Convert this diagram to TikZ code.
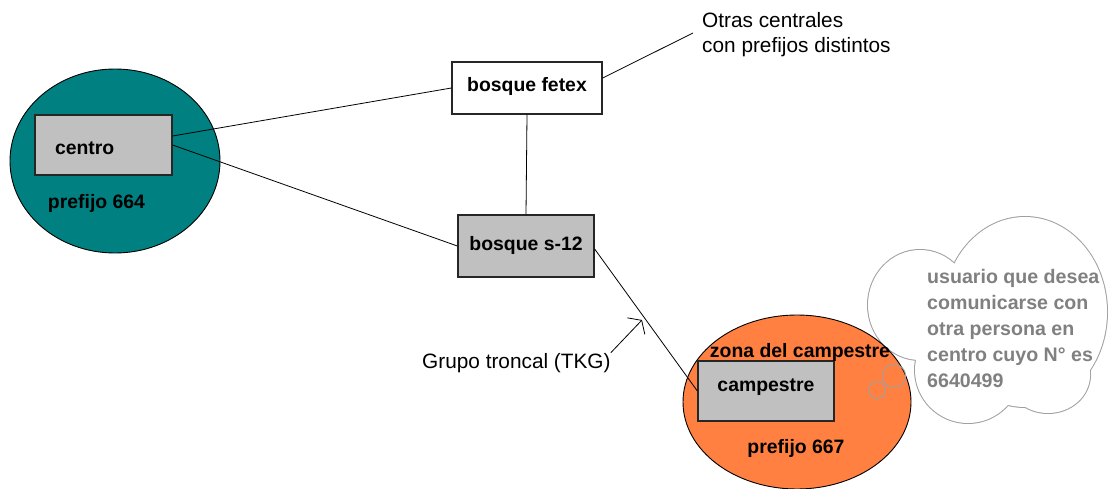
\documentclass[tikz,border=0pt]{standalone}
\usepackage{fontspec}
\setmainfont{Liberation Sans}
\usetikzlibrary{shapes.geometric,arrows.meta,calc}
\definecolor{zoneteal}{RGB}{0,128,128}
\definecolor{zoneorange}{RGB}{255,128,64}
\definecolor{boxgray}{RGB}{192,192,192}
\definecolor{notegray}{RGB}{128,128,128}
\definecolor{cloudline}{RGB}{160,160,160}
\begin{document}
\begin{tikzpicture}[x=1pt,y=-1pt,
  region/.style={ellipse, draw=black, line width=0.9pt, inner sep=0pt},
  exchange/.style={draw=black!85, line width=1.3pt, inner sep=0pt,
    font=\fontsize{19.4}{22}\selectfont\bfseries},
  tag/.style={inner sep=0pt, anchor=base, font=\fontsize{19.4}{22}\selectfont\bfseries},
  remark/.style={inner sep=0pt, font=\fontsize{20.8}{25}\selectfont},
  note/.style={inner sep=0pt, align=left, text=notegray,
    font=\fontsize{19.6}{26}\selectfont\bfseries},
  link/.style={draw=black, line width=0.8pt},
  bubble/.style={draw=cloudline, line width=0.9pt}
]
\fill[white] (0,0) rectangle (1108,489);
\useasboundingbox (0,0) rectangle (1108,489);

% thought cloud: outlined union of lobes
\foreach \cx/\cy/\rx/\ry in {920/305/52/55, 1025/312/82/95, 968/370/53/53, 1048/375/42/38}
  \draw[cloudline, line width=2pt] (\cx,\cy) ellipse [x radius=\rx, y radius=\ry];
\foreach \cx/\cy/\rx/\ry in {920/305/52/55, 1025/312/82/95, 968/370/53/53, 1048/375/42/38, 1000/330/60/60}
  \fill[white] (\cx,\cy) ellipse [x radius=\rx, y radius=\ry];

% prefix zones
\node[region, fill=zoneteal, minimum width=210pt, minimum height=184pt] (zoneA) at (115,161) {};
\node[region, fill=zoneorange, minimum width=228pt, minimum height=174pt] (zoneB) at (797,402) {};

% exchanges
\node[exchange, fill=boxgray, minimum width=137pt, minimum height=60pt,
      text width=97pt, align=left, text height=20pt, text depth=0pt] (centro) at (103.5,145) {centro};
\node[exchange, fill=white, minimum width=150pt, minimum height=52pt,
      text height=12pt, text depth=4pt] (fetex) at (527,88) {bosque fetex};
\node[exchange, fill=boxgray, minimum width=136pt, minimum height=62pt,
      text height=14pt, text depth=4pt] (s12) at (526,246) {bosque s-12};
\node[exchange, fill=boxgray, minimum width=136pt, minimum height=60pt,
      text height=6pt, text depth=6pt] (campestre) at (766,391) {campestre};

% zone labels
\node[tag] (prefA) at (96.5,208) {prefijo 664};
\node[tag] (zona) at (800,357) {zona del campestre};
\node[tag] (prefB) at (796,453) {prefijo 667};

% free-standing remarks
\node[remark, align=left, anchor=north west] (otras) at (702,12) {Otras centrales\\con prefijos distintos};
\node[remark, anchor=base west] (grupo) at (422,368) {Grupo troncal (TKG)};
\coordinate (farEnd) at (693,33);
\coordinate (tkgTip) at (642,320);

% connections
\draw[link] ($(centro.east)+(0,-9)$) -- (fetex.west);
\draw[link] (centro.east) -- (s12.west);
\draw[link] (fetex.south) -- (s12.north);
\draw[link] ($(fetex.east)+(0,-10)$) -- (farEnd);
\draw[link] ($(s12.east)+(0,3)$) -- (campestre.west);
\draw[link, -{Straight Barb[length=8pt,width=24pt]}] (grupo.north east) -- (tkgTip);

% thought bubbles
\draw[bubble] (877,390) circle [radius=8.5];
\draw[bubble] (894,376) circle [radius=11.7];

\node[note, anchor=north west] (nota) at (927,269)
  {usuario que desea\\comunicarse con\\otra persona en\\centro cuyo N° es\\6640499};
\end{tikzpicture}
\end{document}
